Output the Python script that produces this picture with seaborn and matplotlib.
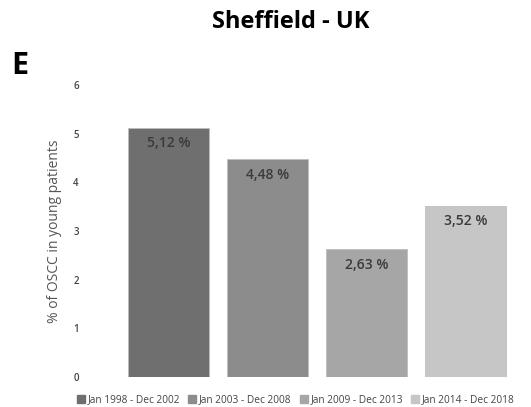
import matplotlib
matplotlib.use("Agg")
import matplotlib.pyplot as plt
import seaborn as sns
import pandas as pd
from matplotlib.lines import Line2D

periods = ["Jan 1998 - Dec 2002", "Jan 2003 - Dec 2008", "Jan 2009 - Dec 2013", "Jan 2014 - Dec 2018"]
values = [5.12, 4.48, 2.63, 3.52]
value_labels = ["5,12 %", "4,48 %", "2,63 %", "3,52 %"]
colors = ["#6f6f6f", "#8c8c8c", "#a6a6a6", "#c6c6c6"]
yticks = [0, 1, 2, 3, 4, 5, 6]

sns.set_theme(style="white")
plt.rcParams['font.family'] = ['Open Sans', 'DejaVu Sans']

df = pd.DataFrame({"period": periods, "value": values})

fig = plt.figure(figsize=(5.31, 4.07), dpi=100)
ax = fig.add_axes([0.224, 0.074, 0.746, 0.717])
sns.barplot(data=df, x="period", y="value", hue="period", palette=colors,
            width=0.81, dodge=False, legend=False, ax=ax, saturation=1)
for p in ax.patches:
    p.set_edgecolor("#bdbdbd")
    p.set_linewidth(0.6)

for i, (v, lab) in enumerate(zip(values, value_labels)):
    ax.text(i, v - 0.32, lab, ha="center", va="center", fontsize=10, color="#3a3a3a", fontweight="semibold")

ax.set_ylim(0, 6)
ax.set_xlim(-0.5, 3.5)
ax.set_yticks(yticks)
ax.set_yticklabels([str(t) for t in yticks], fontsize=7, color="#444444", fontweight="semibold")
ax.tick_params(axis="y", length=0, pad=29)
ax.set_xticks([])
ax.set_xlabel("")
ax.set_ylabel("% of OSCC in young patients", fontsize=10, color="#555555", labelpad=8)
for s in ax.spines.values():
    s.set_visible(False)

handles = [Line2D([0], [0], marker="s", linestyle="", markersize=5.5, markerfacecolor=c, markeredgecolor=c) for c in colors]
fig.legend(handles, periods, loc="center", bbox_to_anchor=(0.557, 0.018), ncol=4, frameon=False,
           fontsize=7.3, labelcolor="#444444", handletextpad=0.25, columnspacing=0.8, handlelength=0.8,
           borderaxespad=0)

fig.text(0.547, 0.945, "Sheffield - UK", ha="center", va="center", fontsize=17, fontweight="bold", color="black")
fig.text(0.038, 0.838, "E", ha="center", va="center", fontsize=22, fontweight="bold", color="black")

fig.savefig("out.png", dpi=100)
